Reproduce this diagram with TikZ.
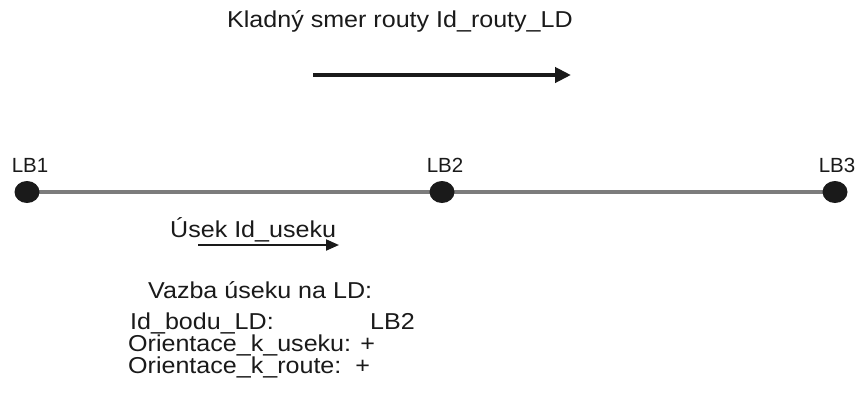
\documentclass[tikz,border=0pt]{standalone}
\usepackage{fontspec}
\setmainfont{Liberation Sans}
\newfontfamily\widesans[FakeStretch=1.09]{Liberation Sans}
\usetikzlibrary{arrows.meta,shapes.geometric}
\definecolor{ink}{HTML}{1A1A1A}
\definecolor{track}{HTML}{7C7C7C}
\tikzset{
  txt/.style={anchor=base west,inner sep=0pt,text=ink,font=\widesans\fontsize{23}{26}\selectfont},
  lbl/.style={anchor=base,inner sep=0pt,text=ink,font=\fontsize{20.5}{25}\selectfont},
  dot/.style={ellipse,fill=ink,minimum width=25pt,minimum height=22pt,inner sep=0pt},
  bigarrow/.style={draw=ink,line width=4pt,-{Triangle[length=16pt,width=15pt]}},
  smallarrow/.style={draw=ink,line width=2pt,-{Triangle[length=13pt,width=11pt]}}
}
\begin{document}
\begin{tikzpicture}[x=1pt,y=-1pt]
\useasboundingbox[fill=white] (0,0) rectangle (861,392);
% track
\coordinate (p1) at (27,192);
\coordinate (p2) at (442,192);
\coordinate (p3) at (835,192);
\draw[track,line width=3.5pt] (p1) -- (p2) -- (p3);
\node[dot] (lb1) at (p1) {};
\node[dot] (lb2) at (p2) {};
\node[dot] (lb3) at (p3) {};
\node[lbl] (t1) at (30,172) {LB1};
\node[lbl] (t2) at (445,172) {LB2};
\node[lbl] (t3) at (837,172) {LB3};
% route direction
\node[txt] (route) at (227,27) {Kladný smer routy Id\_routy\_LD};
\coordinate (ra) at (313,75);
\coordinate (rb) at (571,75);
\draw[bigarrow] (ra) -- (rb);
% section
\node[txt] (usek) at (170,237) {Úsek Id\_useku};
\coordinate (sa) at (198,245);
\coordinate (sb) at (339,245);
\draw[smallarrow] (sa) -- (sb);
% binding block
\node[txt] (vazba) at (148,298) {Vazba úseku na LD:};
\node[txt] (bod) at (130,329) {Id\_bodu\_LD:};
\node[txt] (bodval) at (370,329) {LB2};
\node[txt] (or1) at (128,351) {Orientace\_k\_useku: +};
\node[txt] (or2) at (128,373) {Orientace\_k\_route:\ \ +};
\end{tikzpicture}
\end{document}
